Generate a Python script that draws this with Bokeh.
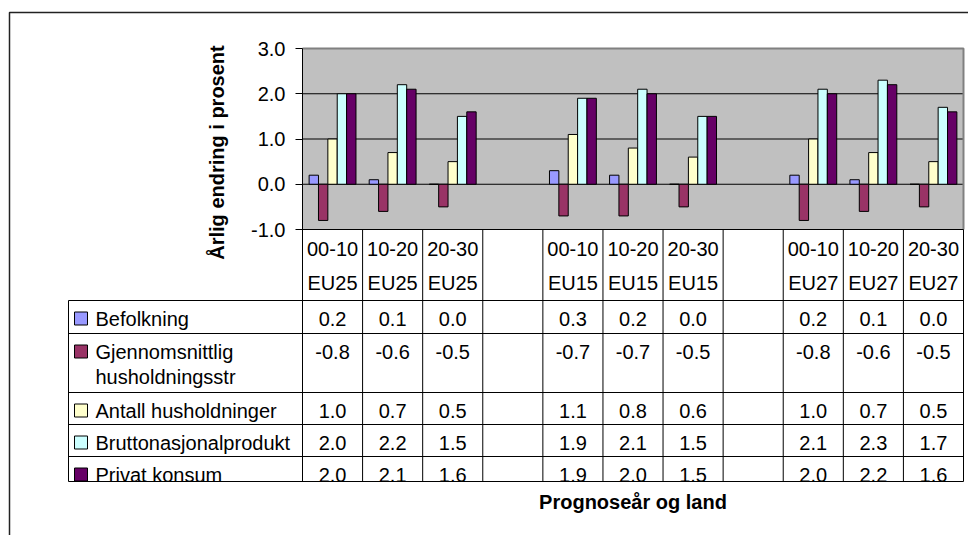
import math

from bokeh.core.properties import value
from bokeh.embed import file_html
from bokeh.models import (ColumnDataSource, FixedTicker, LinearAxis,
                          NumeralTickFormatter, Range1d)
from bokeh.plotting import figure
from bokeh.resources import INLINE

# ---- data -------------------------------------------------------------
periods = ["00-10", "10-20", "20-30"]
regions = ["EU25", "EU15", "EU27"]

series_names = ["Befolkning", "Gjennomsnittlig husholdningsstr",
                "Antall husholdninger", "Bruttonasjonalprodukt", "Privat konsum"]
series_colors = ["#9999FF", "#993366", "#FFFFCC", "#CCFFFF", "#660066"]

# values per region (EU25, EU15, EU27), each for periods 00-10, 10-20, 20-30
befolkning = [0.2, 0.1, 0.0, 0.3, 0.2, 0.0, 0.2, 0.1, 0.0]
gjennomsnittlig = [-0.8, -0.6, -0.5, -0.7, -0.7, -0.5, -0.8, -0.6, -0.5]
antall = [1.0, 0.7, 0.5, 1.1, 0.8, 0.6, 1.0, 0.7, 0.5]
brutto = [2.0, 2.2, 1.5, 1.9, 2.1, 1.5, 2.1, 2.3, 1.7]
privat = [2.0, 2.1, 1.6, 1.9, 2.0, 1.5, 2.0, 2.2, 1.6]

y_ticks = [-1, 0, 1, 2, 3]

series_values = [befolkning, gjennomsnittlig, antall, brutto, privat]

# ---- layout (pixels) --------------------------------------------------
W, H = 968, 535
PLOT_L, PLOT_R, PLOT_T, PLOT_B = 302, 963, 48, 229
TABLE_L, TABLE_B = 68, 481

FONT = "Liberation Sans"
FS = "20px"

n_slots = len(regions) * (len(periods) + 1) - 1      # one empty slot between regions
y_min, y_max = y_ticks[0], y_ticks[-1]
slot_px = (PLOT_R - PLOT_L) / n_slots
unit_px = (PLOT_B - PLOT_T) / (y_max - y_min)


def sx(px):
    """canvas x pixel -> slot units"""
    return (px - PLOT_L) / slot_px


def ty(px):
    """canvas y pixel -> table units (pixels below the value axis)"""
    return px - PLOT_B


x_range = Range1d(sx(0), sx(W))
y_range = Range1d(y_min - (H - PLOT_B) / unit_px, y_max + PLOT_T / unit_px)

p = figure(width=W, height=H, x_range=x_range, y_range=y_range,
           output_backend="svg", toolbar_location=None,
           x_axis_location=None, y_axis_location=None,
           min_border_left=0, min_border_right=0, min_border_top=0, min_border_bottom=0)
p.extra_y_ranges = {"tbl": Range1d(start=ty(H), end=ty(0))}
p.outline_line_color = None
p.background_fill_color = "white"
p.border_fill_color = "white"
p.grid.grid_line_color = None
p.grid.visible = False

txt = dict(text_font=value(FONT), text_font_size=FS, text_color="black")

# plot area
p.quad(left=0, right=n_slots, bottom=y_min, top=y_max,
       fill_color="#C0C0C0", line_color=None)
p.segment(x0=[0] * 3, x1=[n_slots] * 3, y0=[0, 1, 2], y1=[0, 1, 2],
          line_color="black", line_width=1)
p.line(x=[0, n_slots, n_slots], y=[y_max, y_max, y_min],
       line_color="#808080", line_width=2)

# bars
bar_w = 0.156
slot_of = [g * (len(periods) + 1) + k for g in range(len(regions)) for k in range(len(periods))]
for s, (vals, col) in enumerate(zip(series_values, series_colors)):
    xs = [sl + 0.5 + (s - 2) * bar_w for sl in slot_of]
    p.vbar(x=xs, width=bar_w, top=vals, bottom=0,
           fill_color=col, line_color="black", line_width=1)

# value axis, drawn at the left edge of the plot area
ax = LinearAxis(fixed_location=0, ticker=FixedTicker(ticks=y_ticks),
                formatter=NumeralTickFormatter(format="0.0"))
ax.major_label_text_font = FONT
ax.major_label_text_font_size = FS
ax.major_label_text_color = "black"
ax.major_tick_out = 7
ax.major_tick_in = 0
ax.minor_tick_line_color = None
ax.axis_line_color = None
ax.major_tick_line_color = "black"
ax.major_label_standoff = 10
p.add_layout(ax, "left")

# ---- data table -------------------------------------------------------
row_tops = [71, 104, 163, 195, 227]
row_bottom = ty(TABLE_B)
centers = [sl + 0.5 for sl in slot_of]

p.text(x=centers, y=[19] * len(centers), text=[periods[i % 3] for i in range(9)],
       y_range_name="tbl", text_align="center", text_baseline="middle", **txt)
p.text(x=centers, y=[53] * len(centers), text=[regions[i // 3] for i in range(9)],
       y_range_name="tbl", text_align="center", text_baseline="middle", **txt)

for vals, top in zip(series_values, row_tops):
    src = ColumnDataSource(dict(x=centers, y=[top + 18] * len(vals),
                                t=["%.1f" % v for v in vals]))
    p.text(x="x", y="y", text="t", source=src, y_range_name="tbl",
           text_align="center", text_baseline="middle", **txt)

# legend column of the table
label_lines = [["Befolkning"], ["Gjennomsnittlig", "husholdningsstr"],
               ["Antall husholdninger"], ["Bruttonasjonalprodukt"], ["Privat konsum"]]
lx, ly, lt = [], [], []
for lines, top in zip(label_lines, row_tops):
    for j, line in enumerate(lines):
        lx.append(sx(95))
        ly.append(top + 18 + 25 * j)
        lt.append(line)
p.text(x=lx, y=ly, text=lt, y_range_name="tbl",
       text_align="left", text_baseline="middle", **txt)
p.quad(left=[sx(74)] * 5, right=[sx(87)] * 5,
       top=[t + 11.5 for t in row_tops], bottom=[t + 24.5 for t in row_tops],
       y_range_name="tbl", fill_color=series_colors, line_color="black", line_width=1)

# cut the last row at the table edge
p.quad(left=sx(TABLE_L - 2), right=sx(W), top=row_bottom + 0.5, bottom=row_bottom + 12,
       y_range_name="tbl", fill_color="white", line_color=None)

# grid of the table
hx = row_tops + [row_bottom]
p.segment(x0=[0] + [sx(TABLE_L)] * len(hx), x1=[n_slots] * (len(hx) + 1),
          y0=[0] + hx, y1=[0] + hx,
          y_range_name="tbl", line_color="black", line_width=1)
vx = list(range(n_slots + 1))
p.segment(x0=vx + [sx(TABLE_L)], x1=vx + [sx(TABLE_L)],
          y0=[ty(PLOT_T)] + [0] * n_slots + [row_tops[0]],
          y1=[row_bottom] * (n_slots + 2),
          y_range_name="tbl", line_color="black", line_width=1)

# axis titles
p.text(x=[sx(216)], y=[ty(152)], text=["Årlig endring i prosent"], y_range_name="tbl",
       angle=math.pi / 2, text_align="center", text_baseline="middle",
       text_font_style="bold", **txt)
p.text(x=[n_slots / 2], y=[ty(501)], text=["Prognoseår og land"], y_range_name="tbl",
       text_align="center", text_baseline="middle", text_font_style="bold", **txt)

# chart border
p.line(x=[sx(9), sx(9), sx(W + 5)], y=[ty(H + 5), ty(12), ty(12)], y_range_name="tbl",
       line_color="#222222", line_width=1.5)

open("out.html", "w").write(file_html(p, INLINE))
